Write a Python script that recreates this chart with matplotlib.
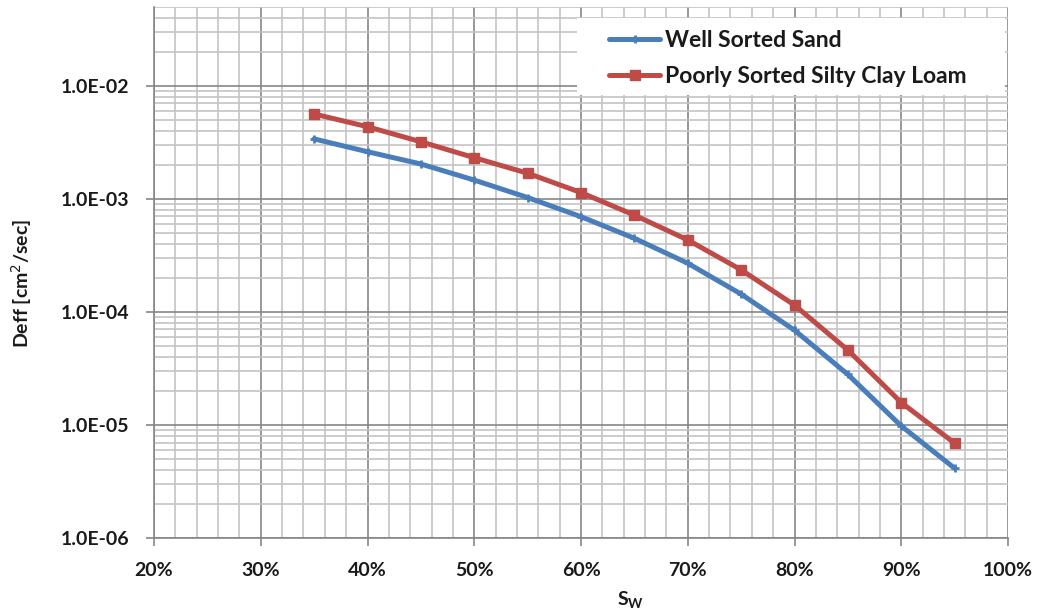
import matplotlib
matplotlib.use("Agg")
import matplotlib.pyplot as plt
from matplotlib.ticker import FixedLocator, FuncFormatter, NullFormatter
from matplotlib.patches import Rectangle
import numpy as np

plt.rcParams['font.family'] = ['Lato', 'DejaVu Sans']

sw = [0.35, 0.40, 0.45, 0.50, 0.55, 0.60, 0.65, 0.70, 0.75, 0.80, 0.85, 0.90, 0.95]
sand = [3.4e-3, 2.62e-3, 2.04e-3, 1.47e-3, 1.03e-3, 6.97e-4, 4.49e-4, 2.7e-4,
        1.44e-4, 6.9e-5, 2.8e-5, 9.8e-6, 4.14e-6]
loam = [5.65e-3, 4.36e-3, 3.21e-3, 2.32e-3, 1.69e-3, 1.14e-3, 7.2e-4, 4.34e-4,
        2.36e-4, 1.15e-4, 4.6e-5, 1.58e-5, 6.9e-6]
name_sand = "Well Sorted Sand"
name_loam = "Poorly Sorted Silty Clay Loam"
y_ticks = [1e-6, 1e-5, 1e-4, 1e-3, 1e-2]

W, H = 1043, 615
fig = plt.figure(figsize=(W/100, H/100), dpi=100)
ax = fig.add_axes([154/W, 1-538/H, (1008-154)/W, (538-7)/H])

blue = '#4A7EBB'
red = '#BE4B48'
ax.plot(sw, sand, color=blue, lw=3.6, marker='+', ms=6, mew=2, label=name_sand,
        solid_capstyle='round', solid_joinstyle='round', zorder=4)
ax.plot(sw, loam, color=red, lw=3.6, marker='s', ms=6.5, label=name_loam,
        solid_capstyle='round', solid_joinstyle='round', zorder=4)

ax.set_yscale('log')
ax.set_xlim(0.2, 1.0)
ax.set_ylim(1e-6, 5e-2)

ax.xaxis.set_major_locator(FixedLocator(np.arange(0.2, 1.001, 0.1)))
ax.xaxis.set_minor_locator(FixedLocator(np.arange(0.2, 1.001, 0.02)))
ax.xaxis.set_major_formatter(FuncFormatter(lambda v, p: f"{v*100:.0f}%"))
ax.yaxis.set_major_locator(FixedLocator(y_ticks))
minor_y = [m * 10.0**e for e in range(-6, -1) for m in range(2, 10) if m * 10.0**e <= 5.01e-2]
ax.yaxis.set_minor_locator(FixedLocator(minor_y))
ax.yaxis.set_major_formatter(FuncFormatter(lambda v, p: f"{v:.1E}"))
ax.yaxis.set_minor_formatter(NullFormatter())

ax.grid(which='major', color='#868686', lw=1.2, zorder=1)
ax.grid(which='minor', color='#C4C4C4', lw=1.2, zorder=0)
ax.set_axisbelow(True)

for s in ['top', 'right']:
    ax.spines[s].set_visible(False)
for s in ['left', 'bottom']:
    ax.spines[s].set_color('#868686')
    ax.spines[s].set_linewidth(1.2)

ax.tick_params(which='major', length=6, width=1.2, color='#868686',
               labelsize=14, labelcolor='#1a1a1a')
ax.tick_params(axis='x', pad=11)
ax.tick_params(axis='y', pad=12)
ax.tick_params(which='minor', length=0)
for lab in ax.get_xticklabels() + ax.get_yticklabels():
    lab.set_fontweight('bold')

fig.text(22/W, 1-283/H, "Deff [cm$^{2}$/sec]", rotation=90, ha='center', va='center',
         fontsize=14, fontweight='bold', color='#1a1a1a')
fig.text(631/W, 1-600/H, "S$_{\\mathregular{W}}$", ha='center', va='center',
         fontsize=14, fontweight='bold', color='#1a1a1a')

# white legend box area
ax.add_patch(Rectangle((577/W, 1-95/H), (1005-577)/W, (95-18)/H,
                       transform=fig.transFigure, facecolor='white',
                       edgecolor='none', zorder=3, clip_on=False))

leg = ax.legend(loc='upper left', bbox_to_anchor=(609/W, 1-30/H),
                bbox_transform=fig.transFigure, fontsize=16.5,
                frameon=False, handlelength=2.23, handletextpad=0.22,
                borderpad=0, labelspacing=0.66, borderaxespad=0)
leg.set_zorder(6)
for t in leg.get_texts():
    t.set_fontweight('bold')
    t.set_color('#1a1a1a')

fig.savefig('out.png', dpi=100, facecolor='white')
